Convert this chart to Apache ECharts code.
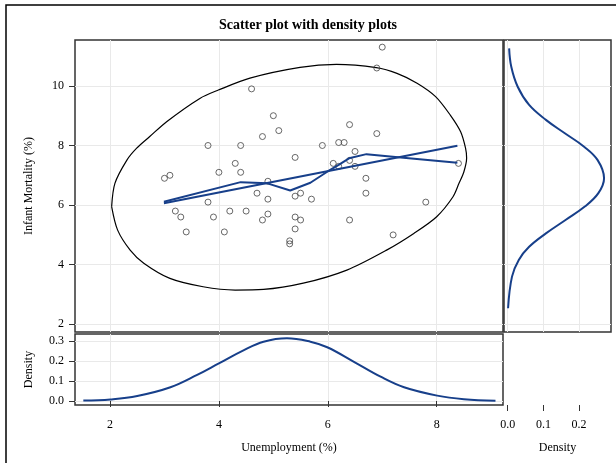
<!DOCTYPE html>
<html>
<head>
    <meta charset="utf-8">
    <title>Scatter plot with density plots</title>
    <script src="https://cdn.jsdelivr.net/npm/echarts@6/dist/echarts.min.js"></script>
    <style>
        html, body { margin: 0; padding: 0; background: #fff; }
    </style>
</head>
<body>
<div id="main" style="width: 616px;height:463px;"></div>

<script type="text/javascript">
    // data
    var unemployment = [7.0, 6.9, 4.6, 5.0, 5.1, 4.8, 6.4, 6.9, 3.8, 4.4, 5.9, 6.2, 6.3, 6.5, 5.4, 6.4, 6.1,
        6.2, 6.5, 8.4, 4.3, 4.0, 4.4, 3.0, 3.1, 4.9, 6.7, 4.7, 5.5, 5.4, 6.7, 4.9, 5.7, 3.8, 7.8, 3.2, 4.2,
        4.5, 3.3, 3.9, 4.9, 4.8, 5.4, 5.5, 6.4, 3.4, 4.1, 5.4, 5.3, 5.3, 7.2];
    var infantMortality = [11.3, 10.6, 9.9, 9.0, 8.5, 8.3, 8.7, 8.4, 8.0, 8.0, 8.0, 8.1, 8.1, 7.8, 7.6, 7.5, 7.4,
        7.3, 7.3, 7.4, 7.4, 7.1, 7.1, 6.9, 7.0, 6.8, 6.9, 6.4, 6.4, 6.3, 6.4, 6.2, 6.2, 6.1, 6.1, 5.8, 5.8,
        5.8, 5.6, 5.6, 5.7, 5.5, 5.6, 5.5, 5.5, 5.1, 5.1, 5.2, 4.8, 4.7, 5.0];

    // prediction ellipse outline
    var ellipseX = [2.03, 2.09, 2.31, 2.49, 2.73, 3.04, 3.65, 3.99, 4.57, 5.49, 6.16, 6.89, 7.27, 7.64, 7.98, 8.25,
        8.44, 8.53, 8.55, 8.50, 8.41, 8.30, 8.00, 7.58, 7.08, 6.35, 5.55, 4.82, 4.30, 3.71, 3.10, 2.62, 2.37, 2.14, 2.03];
    var ellipseY = [5.95, 6.73, 7.51, 7.91, 8.30, 8.80, 9.58, 9.86, 10.26, 10.62, 10.72, 10.61, 10.42, 10.09, 9.64, 9.02,
        8.46, 7.91, 7.58, 7.12, 6.73, 6.28, 5.61, 5.05, 4.49, 3.82, 3.38, 3.17, 3.15, 3.26, 3.54, 4.05, 4.49, 5.16, 5.95];

    // regression line and loess curve
    var regX = [2.99, 8.38];
    var regY = [6.06, 7.99];
    var loessX = [2.99, 4.40, 4.89, 5.31, 5.68, 5.99, 6.20, 6.39, 6.71, 7.34, 8.38];
    var loessY = [6.11, 6.77, 6.73, 6.49, 6.75, 7.12, 7.35, 7.57, 7.71, 7.60, 7.42];

    // density of unemployment (bottom panel)
    var densXgrid = [1.51, 2.01, 2.50, 3.11, 3.60, 4.00, 4.46, 4.82, 5.25, 5.68, 5.99, 6.48, 6.97, 7.40, 8.01, 8.50, 9.08];
    var densXval = [0.002, 0.008, 0.025, 0.069, 0.131, 0.189, 0.256, 0.298, 0.315, 0.298, 0.270, 0.197, 0.122, 0.069, 0.027, 0.009, 0.001];

    // density of infant mortality (right panel)
    var densYgrid = [11.26, 10.64, 9.97, 9.36, 8.86, 8.41, 7.96, 7.51, 6.90, 6.40, 5.95, 5.50, 5.05, 4.60, 4.16, 3.60, 2.54];
    var densYval = [0.004, 0.010, 0.028, 0.060, 0.107, 0.160, 0.214, 0.252, 0.270, 0.254, 0.216, 0.162, 0.107, 0.060, 0.031, 0.012, 0.001];

    var xTicks = [2, 4, 6, 8];
    var yTicks = [2, 4, 6, 8, 10];
    var densTicks = [0, 0.1, 0.2, 0.3];
    var densTicksRight = [0, 0.1, 0.2];

    function zip(a, b) {
        var out = [];
        for (var i = 0; i < a.length; i++) {
            out.push([a[i], b[i]]);
        }
        return out;
    }

    var font = 'Liberation Serif';
    var blue = '#173f8a';
    var gridLine = {show: true, lineStyle: {color: '#e9e9e9', width: 1}};
    var tick = {show: true, length: 6, lineStyle: {color: '#333', width: 1}};
    var label = {color: '#000', fontFamily: font, fontSize: 12};
    var nameStyle = {color: '#000', fontFamily: font, fontSize: 12};
    var fix1 = function (v) { return v.toFixed(1); };

    var myChart = echarts.init(document.getElementById('main'));

    var option = {
        animation: false,
        backgroundColor: '#fff',
        title: {
            text: 'Scatter plot with density plots',
            left: 'center',
            top: 13,
            textStyle: {fontFamily: font, fontSize: 14, fontWeight: 'bold', color: '#000'}
        },
        graphic: [{
            type: 'rect',
            shape: {x: 6, y: 5, width: 640, height: 500},
            style: {fill: 'none', stroke: '#000', lineWidth: 1.5},
            silent: true
        }],
        grid: [
            {left: 75, top: 40, width: 428, height: 292, show: true, borderColor: '#333', borderWidth: 1.5},
            {left: 75, top: 334, width: 428, height: 71, show: true, borderColor: '#333', borderWidth: 1.5},
            {left: 504, top: 40, width: 107, height: 292, show: true, borderColor: '#333', borderWidth: 1.5}
        ],
        xAxis: [
            {
                gridIndex: 0, type: 'value', min: 1.357, max: 9.218,
                axisLine: {show: false},
                axisTick: {show: false, customValues: xTicks},
                axisLabel: {show: false},
                splitLine: gridLine
            },
            {
                gridIndex: 1, type: 'value', min: 1.357, max: 9.218,
                axisLine: {show: false},
                axisTick: Object.assign({customValues: xTicks}, tick),
                axisLabel: Object.assign({customValues: xTicks, margin: 14}, label),
                splitLine: gridLine,
                name: 'Unemployment (%)', nameLocation: 'middle', nameGap: 37,
                nameTextStyle: nameStyle
            },
            {
                gridIndex: 2, type: 'value', min: -0.0104, max: 0.2894,
                position: 'bottom', offset: 73,
                axisLine: {show: false},
                axisTick: Object.assign({customValues: densTicksRight}, tick),
                axisLabel: Object.assign({customValues: densTicksRight, margin: 14, formatter: fix1}, label),
                splitLine: gridLine,
                name: 'Density', nameLocation: 'middle', nameGap: 37,
                nameTextStyle: nameStyle
            }
        ],
        yAxis: [
            {
                gridIndex: 0, type: 'value', min: 1.742, max: 11.54,
                axisLine: {show: false},
                axisTick: Object.assign({customValues: yTicks}, tick),
                axisLabel: Object.assign({customValues: yTicks, margin: 11}, label),
                splitLine: gridLine,
                name: 'Infant Mortality (%)', nameLocation: 'middle', nameGap: 40,
                nameTextStyle: nameStyle
            },
            {
                gridIndex: 1, type: 'value', min: -0.0201, max: 0.3367,
                axisLine: {show: false},
                axisTick: Object.assign({customValues: densTicks}, tick),
                axisLabel: Object.assign({customValues: densTicks, margin: 11, formatter: fix1}, label),
                splitLine: gridLine,
                name: 'Density', nameLocation: 'middle', nameGap: 40,
                nameTextStyle: nameStyle
            },
            {
                gridIndex: 2, type: 'value', min: 1.742, max: 11.54,
                axisLine: {show: false},
                axisTick: {show: false, customValues: yTicks},
                axisLabel: {show: false},
                splitLine: gridLine
            }
        ],
        series: [
            {
                name: 'ellipse', type: 'line', xAxisIndex: 0, yAxisIndex: 0,
                data: zip(ellipseX, ellipseY), smooth: 0.3, showSymbol: false,
                lineStyle: {color: '#000', width: 1.2}, z: 2
            },
            {
                name: 'points', type: 'scatter', xAxisIndex: 0, yAxisIndex: 0,
                data: zip(unemployment, infantMortality), symbol: 'circle', symbolSize: 6,
                itemStyle: {color: 'rgba(0,0,0,0)', borderColor: '#444', borderWidth: 1}, z: 3
            },
            {
                name: 'regression', type: 'line', xAxisIndex: 0, yAxisIndex: 0,
                data: zip(regX, regY), showSymbol: false,
                lineStyle: {color: blue, width: 2}, z: 4
            },
            {
                name: 'loess', type: 'line', xAxisIndex: 0, yAxisIndex: 0,
                data: zip(loessX, loessY), showSymbol: false,
                lineStyle: {color: blue, width: 2}, z: 4
            },
            {
                name: 'density x', type: 'line', xAxisIndex: 1, yAxisIndex: 1,
                data: zip(densXgrid, densXval), smooth: 0.4, showSymbol: false,
                lineStyle: {color: blue, width: 2}
            },
            {
                name: 'density y', type: 'line', xAxisIndex: 2, yAxisIndex: 2,
                data: zip(densYval, densYgrid), smooth: 0.4, showSymbol: false,
                lineStyle: {color: blue, width: 2}
            }
        ]
    };

    myChart.setOption(option);
</script>
</body>
</html>
